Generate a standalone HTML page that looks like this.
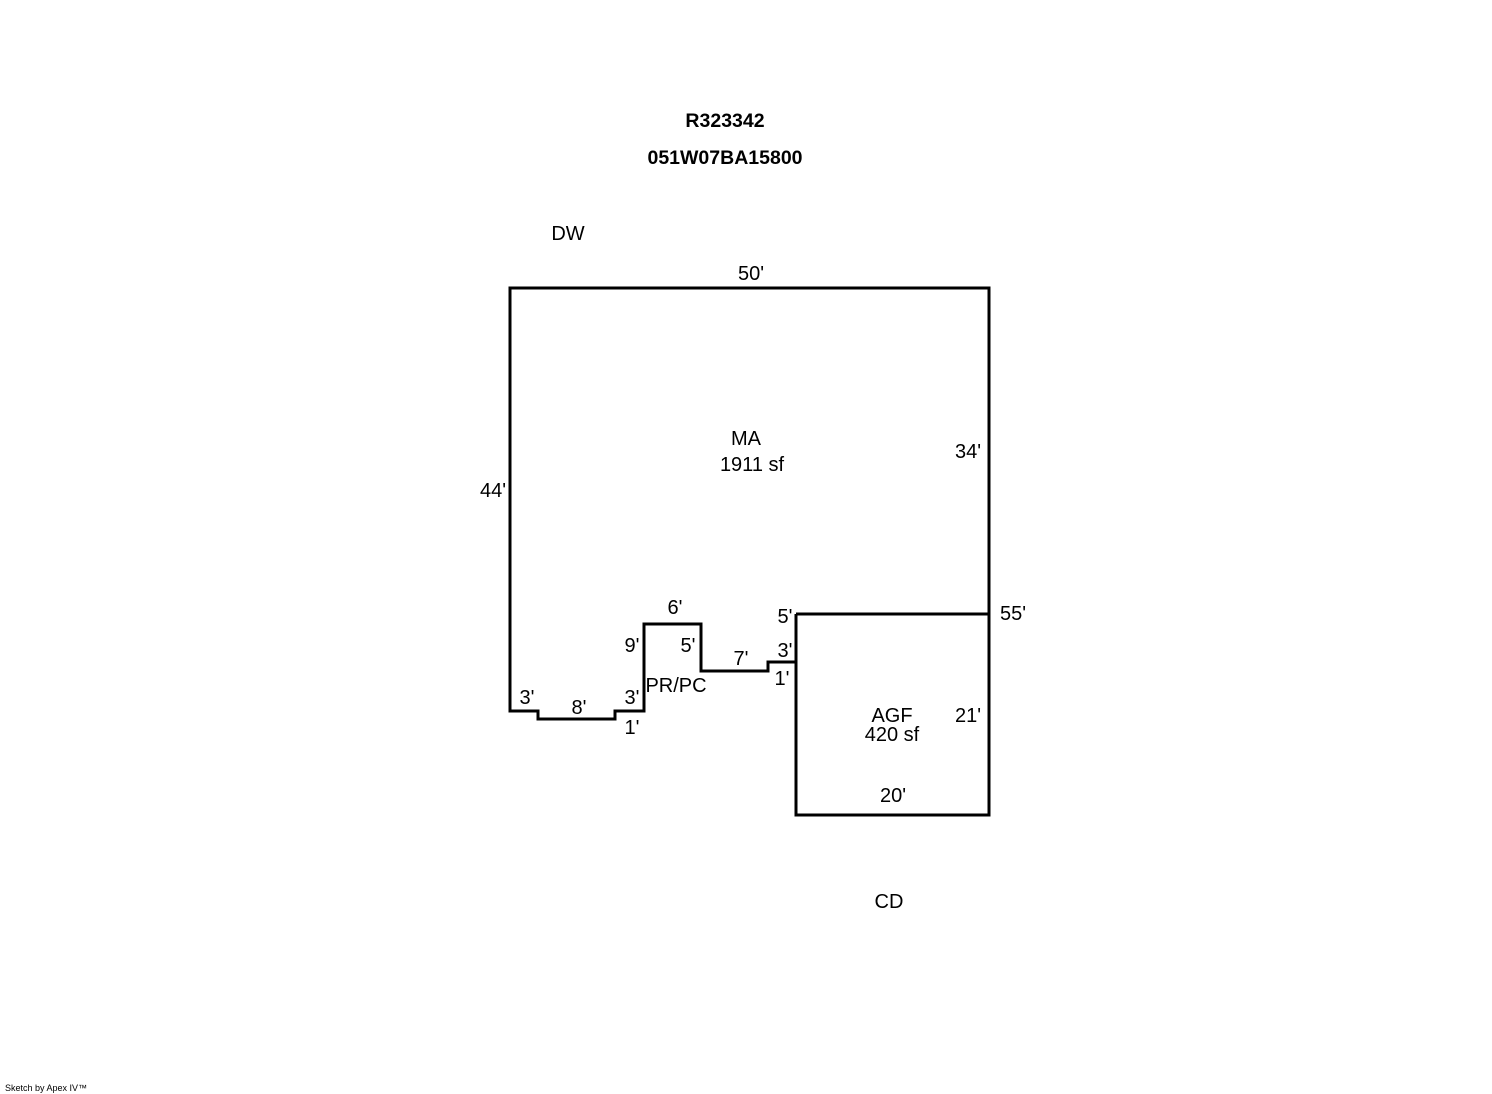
<!DOCTYPE html>
<html><head><style>
body{margin:0;background:#fff;}
svg{display:block;}
text{font-family:"Liberation Sans",Arial,sans-serif;font-size:20px;fill:#000;}
.b{font-weight:bold;font-size:19.5px;}
</style></head><body>
<svg width="1492" height="1094" viewBox="0 0 1492 1094">
<g fill="none" stroke="#000" stroke-width="3" stroke-linejoin="miter">
<path d="M796,662 L768,662 L768,671 L701,671 L701,624 L644,624 L644,711 L615,711 L615,719 L538,719 L538,711 L510,711 L510,288 L989,288 L989,815 L796,815 Z"/>
<path d="M796,614 L989,614 M796,614 L796,663"/>
</g>
<text class="b" x="725" y="127" text-anchor="middle">R323342</text>
<text class="b" x="725" y="164" text-anchor="middle">051W07BA15800</text>
<text x="568" y="240" text-anchor="middle">DW</text>
<text x="751" y="280" text-anchor="middle">50'</text>
<text x="746" y="445" text-anchor="middle">MA</text>
<text x="752" y="471" text-anchor="middle">1911 sf</text>
<text x="968" y="458" text-anchor="middle">34'</text>
<text x="493" y="497" text-anchor="middle">44'</text>
<text x="675" y="614" text-anchor="middle">6'</text>
<text x="785" y="623" text-anchor="middle">5'</text>
<text x="1013" y="620" text-anchor="middle">55'</text>
<text x="632" y="652" text-anchor="middle">9'</text>
<text x="688" y="652" text-anchor="middle">5'</text>
<text x="741" y="665" text-anchor="middle">7'</text>
<text x="785" y="657" text-anchor="middle">3'</text>
<text x="782" y="685" text-anchor="middle">1'</text>
<text x="676" y="692" text-anchor="middle">PR/PC</text>
<text x="527" y="704" text-anchor="middle">3'</text>
<text x="579" y="714" text-anchor="middle">8'</text>
<text x="632" y="704" text-anchor="middle">3'</text>
<text x="632" y="734" text-anchor="middle">1'</text>
<text x="892" y="722" text-anchor="middle">AGF</text>
<text x="892" y="741" text-anchor="middle">420 sf</text>
<text x="968" y="722" text-anchor="middle">21'</text>
<text x="893" y="802" text-anchor="middle">20'</text>
<text x="889" y="908" text-anchor="middle">CD</text>
<text x="5" y="1091" style="font-size:9px">Sketch by Apex IV™</text>
</svg>
</body></html>
